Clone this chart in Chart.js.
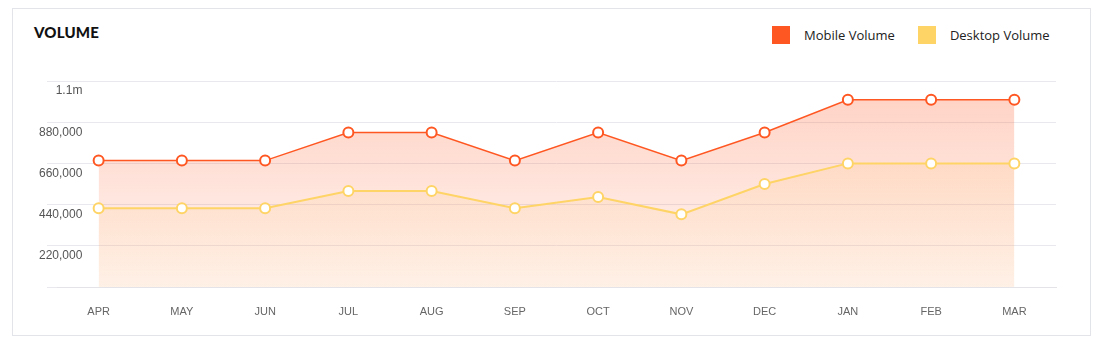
<!DOCTYPE html>
<html>
<head>
<meta charset="utf-8">
<script src="https://cdn.jsdelivr.net/npm/chart.js@4"></script>
<style>
  html, body { margin: 0; padding: 0; background: #fff; }
  body { width: 1110px; height: 349px; position: relative; overflow: hidden; }
  .card {
    position: absolute; left: 12px; top: 8px; width: 1079px; height: 328px;
    border: 1px solid #e3e3ea; box-sizing: border-box;
  }
  .title {
    position: absolute; left: 34px; top: 23px;
    font: 900 15px Lato, sans-serif; color: #111; letter-spacing: 0.2px;
  }
  .legend { position: absolute; left: 772px; top: 26px; display: flex; align-items: center;
    font: 400 13px "Open Sans", sans-serif; color: #222; }
  .legend .box { width: 18px; height: 18px; margin-right: 14px; }
  .legend .item { display: flex; align-items: center; margin-right: 23px; }
  #chart { position: absolute; left: 0; top: 0; }
</style>
</head>
<body>
<div class="card"></div>
<div class="title">VOLUME</div>
<div class="legend" id="legend"></div>
<canvas id="chart" width="1110" height="349"></canvas>
<script>
// Volume chart data
const months = ['APR', 'MAY', 'JUN', 'JUL', 'AUG', 'SEP', 'OCT', 'NOV', 'DEC', 'JAN', 'FEB', 'MAR'];
const mobileVolume = [675000, 675000, 675000, 825000, 825000, 675000, 825000, 675000, 825000, 1000000, 1000000, 1000000];
const desktopVolume = [420000, 420000, 420000, 512000, 512000, 420000, 480000, 388000, 550000, 660000, 660000, 660000];
const seriesLabels = ['Mobile Volume', 'Desktop Volume'];
const yTicks = [0, 220000, 440000, 660000, 880000, 1100000];

const MOBILE = '#ff5722';
const DESKTOP = '#ffd466';

// Build the html legend
const legendEl = document.getElementById('legend');
[MOBILE, DESKTOP].forEach((c, i) => {
    const item = document.createElement('div');
    item.className = 'item';
    item.innerHTML = `<span class="box" style="background:${c}"></span><span>${seriesLabels[i]}</span>`;
    legendEl.appendChild(item);
});

function gradient(ctx, stops) {
    const area = ctx.chart.chartArea;
    if (!area) return 'transparent';
    const g = ctx.chart.ctx.createLinearGradient(0, area.top, 0, area.bottom);
    g.addColorStop(0, stops[0]);
    g.addColorStop(1, stops[1]);
    return g;
}

const ctx = document.getElementById('chart').getContext('2d');
new Chart(ctx, {
    type: 'line',
    data: {
        labels: months,
        datasets: [
            {
                label: seriesLabels[0],
                data: mobileVolume,
                order: 1,
                borderColor: MOBILE,
                borderWidth: 1.5,
                pointRadius: 5,
                pointBorderWidth: 2,
                pointBackgroundColor: '#fff',
                pointBorderColor: MOBILE,
                tension: 0,
                fill: 'origin',
                backgroundColor: (c) => gradient(c, ['rgba(255,87,34,0.28)', 'rgba(255,87,34,0.05)'])
            },
            {
                label: seriesLabels[1],
                data: desktopVolume,
                order: 0,
                borderColor: DESKTOP,
                borderWidth: 2,
                pointRadius: 5,
                pointBorderWidth: 2,
                pointBackgroundColor: '#fff',
                pointBorderColor: DESKTOP,
                tension: 0,
                fill: 'origin',
                backgroundColor: (c) => gradient(c, ['rgba(255,200,130,0.25)', 'rgba(255,200,140,0.13)'])
            }
        ]
    },
    options: {
        responsive: false,
        animation: false,
        layout: { padding: { top: 81, right: 54, bottom: 30, left: 0 } },
        plugins: {
            legend: { display: false },
            tooltip: { enabled: false }
        },
        scales: {
            x: {
                offset: true,
                grid: { display: false, drawTicks: false },
                border: { display: true, color: '#e4e4e8' },
                ticks: {
                    color: '#666',
                    font: { family: 'Liberation Sans, Arial', size: 11 },
                    padding: 18
                },
                afterFit: (s) => { s.height = 32; }
            },
            y: {
                min: 0,
                max: 1100000,
                afterBuildTicks: (s) => { s.ticks = yTicks.map(v => ({ value: v })); },
                grid: {
                    color: (c) => c.tick && c.tick.value === 0 ? 'rgba(0,0,0,0)' : '#e8e8ee',
                    tickLength: 10,
                    tickColor: '#e8e8ee'
                },
                border: { display: false },
                ticks: {
                    mirror: true,
                    crossAlign: 'far',
                    color: '#555',
                    font: { family: 'Liberation Sans, Arial', size: 12 },
                    padding: -18,
                    labelOffset: 10,
                    callback: (v) => v === 0 ? '' : (v >= 1000000 ? (v / 1000000).toFixed(1) + 'm' : v.toLocaleString('en-US'))
                },
                afterFit: (s) => { s.width = 57; }
            }
        }
    }
});
</script>
</body>
</html>
